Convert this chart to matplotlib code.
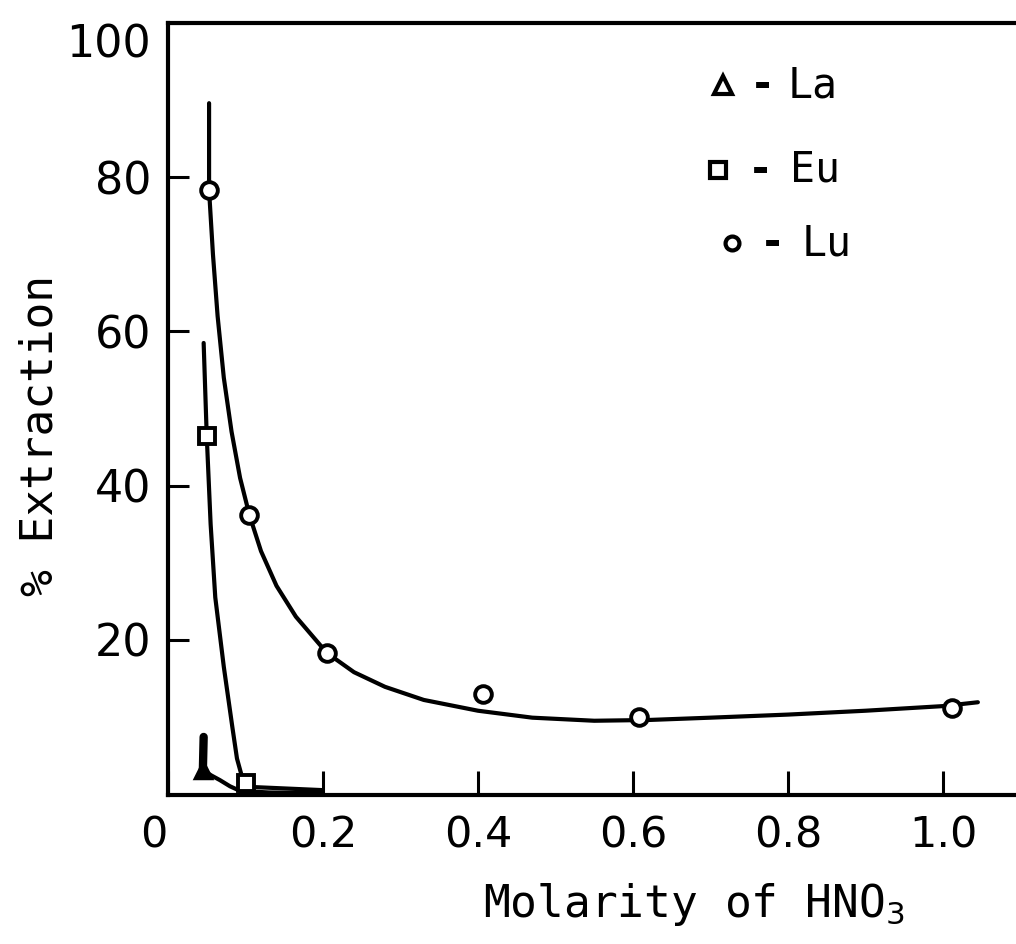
import matplotlib
matplotlib.use("Agg")
import matplotlib.pyplot as plt
from matplotlib.transforms import ScaledTranslation

# Measured extraction points (% extracted vs. HNO3 molarity)
lu_x = [0.053, 0.105, 0.205, 0.406, 0.608, 1.012]
lu_y = [78.3, 36.2, 18.3, 13.0, 10.0, 11.1]
eu_x = [0.050, 0.101]
eu_y = [46.4, 1.4]
la_x = [0.045]
la_y = [3.1]

# Hand-drawn trend curves through each series
lu_curve_x = [0.053, 0.053, 0.058, 0.064, 0.072, 0.082, 0.093, 0.105, 0.120,
              0.140, 0.165, 0.205, 0.240, 0.280, 0.330, 0.400, 0.470, 0.550,
              0.620, 0.700, 0.800, 0.900, 1.000, 1.045]
lu_curve_y = [89.6, 78.3, 70.0, 62.0, 54.0, 47.0, 41.0, 36.2, 31.5,
              27.0, 23.0, 18.3, 15.8, 13.9, 12.2, 10.8, 9.9, 9.5,
              9.6, 9.9, 10.3, 10.8, 11.4, 11.9]
eu_curve_x = [0.046, 0.050, 0.055, 0.061, 0.072, 0.083, 0.089, 0.095, 0.101, 0.110, 0.200]
eu_curve_y = [58.5, 46.4, 35.0, 25.5, 16.5, 8.7, 4.6, 2.4, 1.4, 0.9, 0.5]
la_curve_x = [0.046, 0.045, 0.056, 0.067, 0.080, 0.093, 0.130, 0.200]
la_curve_y = [7.4, 3.1, 2.4, 1.8, 1.0, 0.4, 0.2, 0.1]

x_ticks = [0, 0.2, 0.4, 0.6, 0.8, 1.0]
x_tick_labels = ["0", "0.2", "0.4", "0.6", "0.8", "1.0"]
y_ticks = [20, 40, 60, 80, 100]
y_tick_labels = ["20", "40", "60", "80", "100"]

W, H = 1016, 944
fig = plt.figure(figsize=(W / 100, H / 100), dpi=100)
ax = fig.add_axes([168 / W, 1 - 795 / H, 848 / W, 772 / H])
ax.set_xlim(0, 848 / 775)
ax.set_ylim(-0.13, 100)

lw = 3.0
line_kw = dict(color="black", lw=lw, solid_joinstyle="round", solid_capstyle="round", zorder=2)
ax.plot(lu_curve_x, lu_curve_y, **line_kw)
ax.plot(eu_curve_x, eu_curve_y, **line_kw)
ax.plot(la_curve_x, la_curve_y, **line_kw)
ax.plot([la_curve_x[0], la_curve_x[1]], [la_curve_y[0], la_curve_y[1]],
        color="black", lw=6, solid_capstyle="round", zorder=2)

ax.plot(lu_x, lu_y, "o", ms=12, mfc="white", mec="black", mew=2.8, zorder=3, clip_on=False)
ax.plot(eu_x, eu_y, "s", ms=12, mfc="white", mec="black", mew=2.8, zorder=3, clip_on=False)
ax.plot(la_x, la_y, "^", ms=12, mfc="black", mec="black", mew=2.5, zorder=3, clip_on=False)

for side in ("left", "top", "bottom"):
    ax.spines[side].set_linewidth(3)
ax.spines["right"].set_visible(False)

ax.set_xticks(x_ticks)
ax.set_xticklabels(x_tick_labels)
ax.set_yticks(y_ticks)
ax.set_yticklabels(y_tick_labels)
ax.tick_params(axis="x", direction="in", length=17, width=2.2, labelsize=31, pad=14)
ax.tick_params(axis="y", direction="in", length=15, width=2.2, labelsize=32, pad=12)

# Hand-lettered offsets: "0" sits left of the origin, "100" below the top edge
xl = ax.get_xticklabels()[0]
xl.set_transform(xl.get_transform() + ScaledTranslation(-14 / 100, 0, fig.dpi_scale_trans))
yl = ax.get_yticklabels()[-1]
yl.set_transform(yl.get_transform() + ScaledTranslation(0, -18 / 100, fig.dpi_scale_trans))

# Key: symbol, dash and element name placed in pixel columns
mono = "DejaVu Sans Mono"
key = [("^", 13, "La", 723, 85, 762, 788),
       ("s", 12, "Eu", 718, 170, 760, 790),
       ("o", 10, "Lu", 732, 243, 772, 802)]
to_ax = lambda px, py: ((px - 168) / 848, (795 - py) / 772)
for mk, ms, name, mx, y, dx, nx in key:
    ax_mx, ax_y = to_ax(mx, y)
    ax.plot([ax_mx], [ax_y], mk, ms=ms, mfc="white", mec="black", mew=3,
            transform=ax.transAxes, clip_on=False)
    ax.text(to_ax(dx, y)[0], ax_y, "-", transform=ax.transAxes, fontsize=30,
            family=mono, ha="center", va="center", fontweight="bold")
    ax.text(to_ax(nx, y)[0], ax_y, name, transform=ax.transAxes, fontsize=30,
            family=mono, ha="left", va="center")

fig.text(694 / W, 1 - 905 / H, "Molarity of HNO$_3$", fontsize=32, family=mono,
         ha="center", va="center")
fig.text(40 / W, 1 - 435 / H, "% Extraction", fontsize=32, family=mono,
         rotation=90, ha="center", va="center")

fig.savefig("out.png", dpi=100)
